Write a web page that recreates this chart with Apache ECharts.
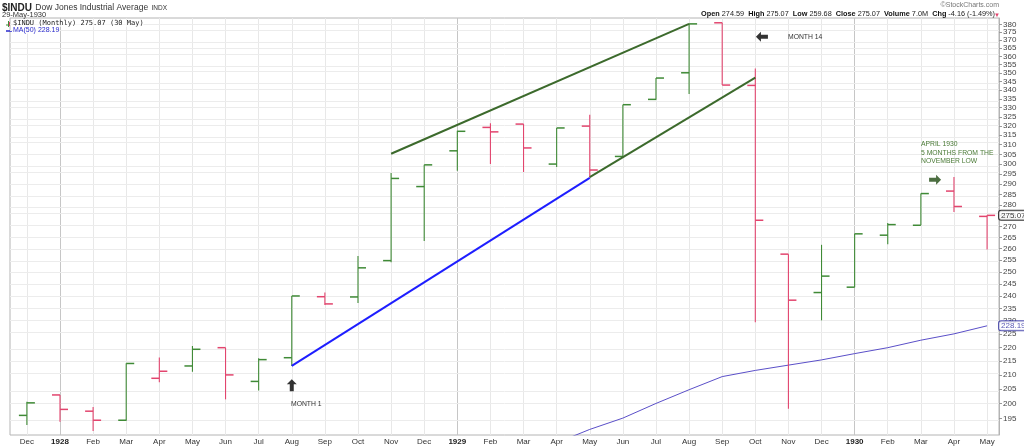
<!DOCTYPE html>
<html><head><meta charset="utf-8">
<script src="https://cdn.jsdelivr.net/npm/echarts@6/dist/echarts.min.js"></script>
<style>html,body{margin:0;padding:0;background:#fff}#c{width:1024px;height:446px}</style>
</head><body><div id="c"></div>
<script>
// ---- data (monthly $INDU, Dec 1927 .. May 1930) ----
const months = ['Dec','1928','Feb','Mar','Apr','May','Jun','Jul','Aug','Sep','Oct','Nov','Dec','1929','Feb','Mar','Apr','May','Jun','Jul','Aug','Sep','Oct','Nov','Dec','1930','Feb','Mar','Apr','May'];
const yearLabels = ['1928','1929','1930'];
const openV  = [196.1,203.0,197.5,194.5,208.8,213.2,219.9,207.7,216.2,239.7,239.6,254.8,288.8,306.8,319.2,321.0,300.0,319.9,303.9,334.7,350.1,381.0,342.7,257.6,241.4,243.6,266.0,270.5,286.6,274.59];
const highV  = [200.7,203.0,198.9,214.2,216.3,220.5,219.9,216.0,240.0,241.4,256.8,295.5,299.6,317.4,321.5,321.0,318.9,326.1,331.7,347.0,380.3,381.0,352.6,257.6,261.7,266.6,271.5,285.4,293.5,275.07];
const lowV   = [192.9,194.0,191.0,194.3,207.4,211.1,201.5,204.5,213.2,236.4,237.2,254.1,263.4,296.6,300.0,296.0,298.5,293.1,303.6,334.5,337.7,342.9,229.6,198.3,230.3,243.6,262.0,270.5,276.6,259.68];
const closeV = [200.3,198.1,194.5,214.1,211.3,219.3,210.0,215.5,240.0,236.8,251.7,292.8,299.6,317.1,316.8,308.3,318.9,297.0,331.7,347.0,380.3,342.9,272.8,238.3,248.2,266.6,270.8,285.4,279.23,275.07];
const ma50   = [null,null,null,null,null,null,null,null,null,null,null,null,null,null,null,null,187.2,191.5,195.2,200.1,204.8,209.4,211.6,213.5,215.4,217.7,219.9,222.7,225.1,228.19];
const yTicks = [195,200,205,210,215,220,225,230,235,240,245,250,255,260,265,270,275,280,285,290,295,300,305,310,315,320,325,330,335,340,345,350,355,360,365,370,375,380];
const yRange = [189.7, 384.1];
// hand-drawn annotation lines [monthIndex, price]
const upperTrend = [[11,305.3],[20,380.3]];
const lowerTrend = [[17,293.5],[22,347.3]];
const blueTrend  = [[8,213.2],[17,293.1]];
const arrowsUp    = [[8.0,206.4]];
const arrowsLeft  = [[22.2,372.1]];
const arrowsRight = [[27.43,292.1]];
const lastClose = 275.07, lastMA = 228.19;

const GREEN='#3f8a36', RED='#e2456e', FONT='"Liberation Sans", Arial, sans-serif';
const L = Math.log;

const ohlc = months.map((m,i)=>[i, L(openV[i]), L(highV[i]), L(lowV[i]), L(closeV[i]), i===0 ? 1 : (closeV[i] >= closeV[i-1] ? 1 : -1)]);
const lnPairs = a => a.map(p=>[p[0], L(p[1])]);

function renderOHLC(params, api){
  const x = api.value(0);
  const o = api.coord([x, api.value(1)]);
  const h = api.coord([x, api.value(2)]);
  const l = api.coord([x, api.value(3)]);
  const c = api.coord([x, api.value(4)]);
  const color = api.value(5) > 0 ? GREEN : RED;
  const px = o[0], tw = 8;
  return {type:'group', children:[
    {type:'line', shape:{x1:px,y1:h[1],x2:px,y2:l[1]}, style:{stroke:color,lineWidth:1.1}},
    {type:'line', shape:{x1:px-tw,y1:o[1],x2:px,y2:o[1]}, style:{stroke:color,lineWidth:1.5}},
    {type:'line', shape:{x1:px,y1:c[1],x2:px+tw,y2:c[1]}, style:{stroke:color,lineWidth:1.5}}
  ]};
}

const arrowUpPath = 'path://M5,0 L10,5 L7,5 L7,12 L3,12 L3,5 L0,5 Z';
const arrowLeftPath = 'path://M0,5 L5,0 L5,3 L12,3 L12,7 L5,7 L5,10 Z';
const arrowRightPath = 'path://M12,5 L7,0 L7,3 L0,3 L0,7 L7,7 L7,10 Z';

const gridLines = [].concat(
  months.map((m,i)=>({xAxis:i, lineStyle:{color: yearLabels.includes(m) ? '#c6c6c6' : '#e8e8e8'}})),
  yTicks.map(v=>({yAxis:L(v), lineStyle:{color:'#ececec'}}))
);

const chart = echarts.init(document.getElementById('c'), null, {renderer:'canvas'});
chart.setOption({
  animation:false,
  textStyle:{fontFamily:FONT},
  grid:{left:10, right:25, top:18, bottom:11, show:true, borderColor:'#b4b4b4', borderWidth:1, backgroundColor:'transparent'},
  xAxis:{type:'value', min:-0.51, max:29.36,
    axisLine:{show:false, onZero:false}, axisTick:{show:false},
    axisLabel:{customValues:months.map((m,i)=>i), margin:3, fontSize:8, color:'#333',
      formatter:v=>{const m=months[Math.round(v)]; return yearLabels.includes(m)?'{b|'+m+'}':m;},
      rich:{b:{fontWeight:'bold', fontSize:8, color:'#222'}}},
    splitLine:{show:false}
  },
  yAxis:{type:'value', position:'right', min:L(yRange[0]), max:L(yRange[1]), scale:true,
    axisLine:{show:true, onZero:false, lineStyle:{color:'#b4b4b4'}},
    axisTick:{show:true, length:3, customValues:yTicks.map(L), lineStyle:{color:'#999'}},
    axisLabel:{customValues:yTicks.map(L), margin:4, fontSize:8, color:'#444', formatter:v=>String(Math.round(Math.exp(v)))},
    splitLine:{show:false}
  },
  series:[
    {type:'line', data:[], z:0, silent:true,
      markLine:{z:0, zlevel:0, silent:true, symbol:['none','none'], label:{show:false}, lineStyle:{type:'solid', width:1}, data:gridLines, animation:false}},
    {type:'line', name:'MA(50)', data:ma50.map((v,i)=>[i, v==null?null:L(v)]), showSymbol:false, connectNulls:false,
      lineStyle:{color:'#5a4fc8', width:1}, clip:true, z:2},
    {type:'custom', name:'INDU', renderItem:renderOHLC, data:ohlc, encode:{x:0, y:[1,2,3,4]}, clip:true, z:3},
    {type:'line', data:lnPairs(upperTrend), showSymbol:false, lineStyle:{color:'#3c6a2c', width:2}, z:4},
    {type:'line', data:lnPairs(lowerTrend), showSymbol:false, lineStyle:{color:'#3c6a2c', width:2}, z:4},
    {type:'line', data:lnPairs(blueTrend), showSymbol:false, lineStyle:{color:'#1e1eff', width:2}, z:4},
    {type:'scatter', data:lnPairs(arrowsUp), symbol:arrowUpPath, symbolSize:[10,12], itemStyle:{color:'#000'}, z:5},
    {type:'scatter', data:lnPairs(arrowsLeft), symbol:arrowLeftPath, symbolSize:[12,10], itemStyle:{color:'#000'}, z:5},
    {type:'scatter', data:lnPairs(arrowsRight), symbol:arrowRightPath, symbolSize:[12,10], itemStyle:{color:'#1f4a12'}, z:5},
    {type:'scatter', data:[[29, L(lastClose)]], symbolSize:0, clip:false, z:6,
      label:{show:true, position:'right', distance:12, formatter:lastClose.toFixed(2), fontSize:8, color:'#000',
        backgroundColor:'#fff', borderColor:'#000', borderWidth:1, borderRadius:2, padding:[1,1,0,2]}},
    {type:'scatter', data:[[29, L(lastMA)]], symbolSize:0, clip:false, z:6,
      label:{show:true, position:'right', distance:12, formatter:lastMA.toFixed(2), fontSize:8, color:'#2a2aa0',
        backgroundColor:'#fff', borderColor:'#2a2aa0', borderWidth:1, borderRadius:2, padding:[1,1,0,2]}}
  ],
  graphic:[
    {type:'text', left:2, top:2, style:{text:'{a|$INDU} {b|Dow Jones Industrial Average} {c|INDX}', fill:'#222',
      rich:{a:{fontWeight:'bold', fontSize:10, fontFamily:FONT, fill:'#222'}, b:{fontSize:8.5, fontFamily:FONT, fill:'#333'}, c:{fontSize:6.5, fontFamily:FONT, fill:'#333'}}}},
    {type:'text', left:2, top:11, style:{text:'29-May-1930', fontSize:7.5, fontFamily:FONT, fill:'#333'}},
    {type:'line', shape:{x1:8.5,y1:21,x2:8.5,y2:27}, style:{stroke:GREEN, lineWidth:1}},
    {type:'line', shape:{x1:6,y1:25,x2:8.5,y2:25}, style:{stroke:GREEN, lineWidth:1}},
    {type:'line', shape:{x1:9.5,y1:22,x2:9.5,y2:26}, style:{stroke:RED, lineWidth:1}},
    {type:'text', left:13, top:20, z:10, style:{text:'$INDU (Monthly) 275.07 (30 May)', fontSize:7, fontFamily:'"DejaVu Sans Mono", "Liberation Mono", monospace', fill:'#222', backgroundColor:'rgba(255,255,255,0.6)'}},
    {type:'line', shape:{x1:6,y1:31,x2:12,y2:31}, style:{stroke:'#2a2acc', lineWidth:1.5}},
    {type:'text', left:13, top:27, z:10, style:{text:'MA(50) 228.19', fontSize:7, fontFamily:FONT, fill:'#2a2acc', backgroundColor:'rgba(255,255,255,0.6)'}},
    {type:'text', right:25, top:2, style:{text:'©StockCharts.com', fontSize:7, fontFamily:FONT, fill:'#777'}},
    {type:'text', right:29, top:10, style:{text:'{k|Open} 274.59  {k|High} 275.07  {k|Low} 259.68  {k|Close} 275.07  {k|Volume} 7.0M  {k|Chg} -4.16 (-1.49%)', fontSize:7.3, fontFamily:FONT, fill:'#222',
      rich:{k:{fontWeight:'bold', fontSize:7.3, fontFamily:FONT, fill:'#111'}}}},
    {type:'text', left:994, top:12, style:{text:'▼', fontSize:6, fill:RED}},
    {type:'text', left:291, top:401, z:10, style:{text:'MONTH 1', fontSize:6.8, fontFamily:FONT, fill:'#333'}},
    {type:'text', left:788, top:34, z:10, style:{text:'MONTH 14', fontSize:6.8, fontFamily:FONT, fill:'#333'}},
    {type:'text', left:921, top:140, z:10, style:{text:'APRIL 1930\n5 MONTHS FROM THE\nNOVEMBER LOW', fontSize:6.8, lineHeight:8.5, fontFamily:FONT, fill:'#4a7a36'}}
  ]
});
</script></body></html>
